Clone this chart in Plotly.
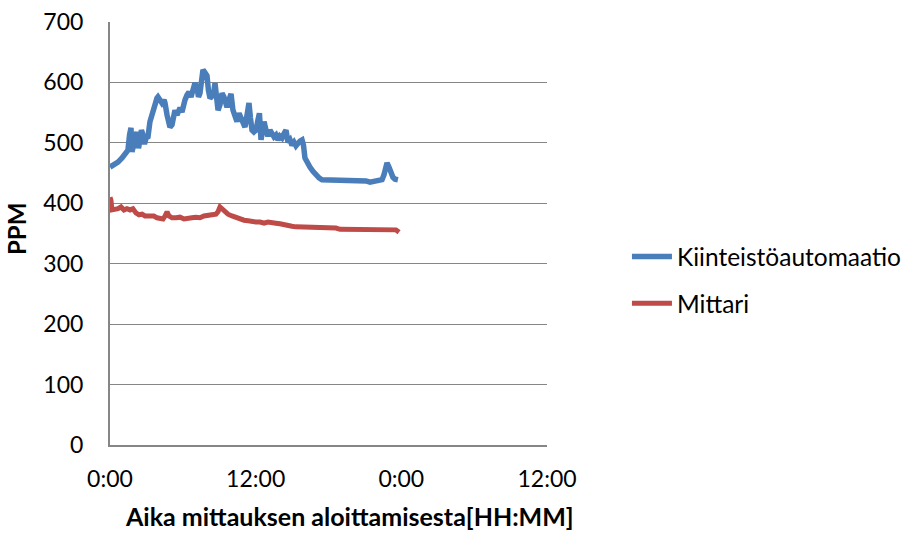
import plotly.graph_objects as go

# Elapsed time since measurement start, hours
kiinteisto_h = [0.00, 0.33, 0.66, 0.99, 1.24, 1.48, 1.61, 1.73, 1.81, 1.89, 2.06, 2.22, 2.35, 2.47,
                2.59, 2.72, 2.84, 2.97, 3.13, 3.29, 3.46, 3.62, 3.71, 3.87, 3.95, 4.12, 4.28, 4.45,
                4.53, 4.70, 4.78, 4.94, 5.11, 5.23, 5.35, 5.52, 5.60, 5.77, 5.93, 6.05, 6.18, 6.34,
                6.51, 6.67, 6.84, 7.00, 7.17, 7.29, 7.41, 7.54, 7.66, 7.83, 7.99, 8.11, 8.24, 8.40,
                8.57, 8.65, 8.77, 8.90, 9.06, 9.23, 9.39, 9.56, 9.64, 9.80, 9.97, 10.13, 10.30, 10.46,
                10.63, 10.79, 10.96, 11.12, 11.29, 11.45, 11.57, 11.70, 11.86, 12.03, 12.19, 12.31,
                12.44, 12.56, 12.69, 12.85, 13.01, 13.18, 13.34, 13.51, 13.67, 13.84, 14.00, 14.17,
                14.33, 14.50, 14.66, 14.83, 14.99, 15.16, 15.32, 15.49, 15.65, 15.82, 15.94, 16.06,
                16.23, 16.47, 16.72, 16.97, 17.22, 17.46, 17.79, 18.12, 18.45, 18.78, 19.11, 19.44,
                19.77, 20.10, 20.43, 20.76, 21.09, 21.42, 21.75, 22.08, 22.41, 22.57, 22.69, 22.82,
                22.98, 23.15, 23.31, 23.48, 23.72]
kiinteisto_ppm = [460, 463, 468, 475, 480, 488, 513, 525, 485, 493, 508, 518, 491, 505,
                  521, 513, 498, 508, 510, 535, 549, 561, 568, 574, 576, 569, 566, 571,
                  566, 546, 535, 526, 530, 551, 554, 546, 549, 558, 551, 566, 571, 579,
                  584, 576, 587, 599, 591, 576, 582, 604, 621, 616, 611, 587, 574, 577,
                  587, 599, 574, 554, 563, 582, 576, 563, 559, 571, 581, 554, 546, 535,
                  549, 541, 530, 526, 546, 566, 541, 521, 518, 521, 538, 549,
                  505, 525, 535, 521, 511, 521, 515, 510, 513, 505, 511, 508,
                  515, 521, 501, 505, 496, 501, 495, 500, 503, 505, 496, 475,
                  467, 460, 453, 447, 442, 439, 439, 439, 437, 439, 438, 439,
                  439, 439, 439, 437, 437, 435, 436, 437, 439, 447, 458, 467,
                  460, 448, 443, 440, 439]

mittari_h = [0.00, 0.08, 0.16, 0.41, 0.66, 0.91, 1.15, 1.40, 1.65, 1.89, 2.14, 2.39, 2.64, 2.88,
             3.13, 3.38, 3.62, 3.87, 4.12, 4.37, 4.53, 4.70, 4.86, 5.11, 5.44, 5.77, 6.10, 6.43,
             6.75, 7.08, 7.41, 7.74, 8.07, 8.40, 8.73, 8.90, 9.06, 9.23, 9.47, 9.72, 10.05, 10.38,
             10.71, 11.04, 11.37, 11.70, 12.03, 12.36, 12.69, 13.01, 13.34, 13.67, 14.00, 14.33,
             14.66, 14.99, 15.32, 15.65, 15.98, 16.31, 16.64, 16.97, 17.30, 17.63, 17.96, 18.29,
             18.62, 18.95, 19.28, 19.60, 19.93, 20.26, 20.59, 20.92, 21.25, 21.58, 21.91, 22.24,
             22.57, 22.90, 23.23, 23.56, 23.81]
mittari_ppm = [410, 405, 389, 389, 391, 394, 389, 391, 389, 391, 384, 381, 382, 379,
               379, 377, 379, 376, 374, 374, 379, 386, 379, 376, 376, 377, 374, 376,
               376, 377, 376, 379, 381, 381, 382, 386, 394, 391, 386, 382, 379, 376,
               374, 372, 371, 369, 369, 369, 367, 369, 367, 367, 366, 364,
               364, 362, 361, 361, 359, 361, 361, 361, 361, 359, 359, 359,
               359, 357, 357, 357, 357, 356, 356, 357, 356, 356, 357, 356,
               357, 357, 357, 356, 352]

x_tick_vals = [0, 12, 24, 36]
x_tick_text = ["0:00", "12:00", "0:00", "12:00"]
y_tick_vals = [0, 100, 200, 300, 400, 500, 600, 700]

FONT = "Lato, 'Open Sans', sans-serif"
AXIS_GREY = "#868686"

fig = go.Figure()
fig.add_trace(go.Scatter(x=kiinteisto_h, y=kiinteisto_ppm, mode="lines",
                         name="Kiinteistöautomaatio", legendgroup="k",
                         line=dict(color="#4A7EBB", width=5.5, shape="linear")))
fig.add_trace(go.Scatter(x=mittari_h, y=mittari_ppm, mode="lines",
                         name="Mittari", legendgroup="m",
                         line=dict(color="#BE4B48", width=5, shape="linear")))

fig.update_layout(
    width=906, height=533,
    margin=dict(l=110, r=359, t=22, b=88, autoexpand=False),
    paper_bgcolor="white", plot_bgcolor="white",
    font=dict(family=FONT, size=23, color="#000000"),
    legend=dict(xref="container", yref="container", x=0.692, xanchor="left",
                y=(533 - 280) / 533, yanchor="middle",
                font=dict(size=24.5), itemwidth=40, tracegroupgap=12,
                bgcolor="rgba(0,0,0,0)"),
    xaxis=dict(range=[0, 36], tickvals=x_tick_vals, ticktext=x_tick_text,
               showgrid=False, zeroline=False, showline=True, linecolor=AXIS_GREY,
               linewidth=2, ticks="", ticklabelstandoff=12, automargin=False),
    yaxis=dict(range=[0, 700], tickvals=y_tick_vals,
               showgrid=True, gridcolor=AXIS_GREY, gridwidth=1.3,
               zeroline=False, showline=True, linecolor=AXIS_GREY, linewidth=2,
               ticks="", ticklabelstandoff=20, automargin=False),
    annotations=[
        dict(text="<b>Aika mittauksen aloittamisesta[HH:MM]</b>", xref="paper", yref="paper",
             x=0.547, y=-71 / 423, xanchor="center", yanchor="middle",
             showarrow=False, font=dict(size=25)),
        dict(text="<b>PPM</b>", xref="paper", yref="paper",
             x=-94 / 437, y=(445 - 229) / 423, xanchor="center", yanchor="middle",
             textangle=-90, showarrow=False, font=dict(size=24)),
    ],
)

fig.write_html("out.html")
